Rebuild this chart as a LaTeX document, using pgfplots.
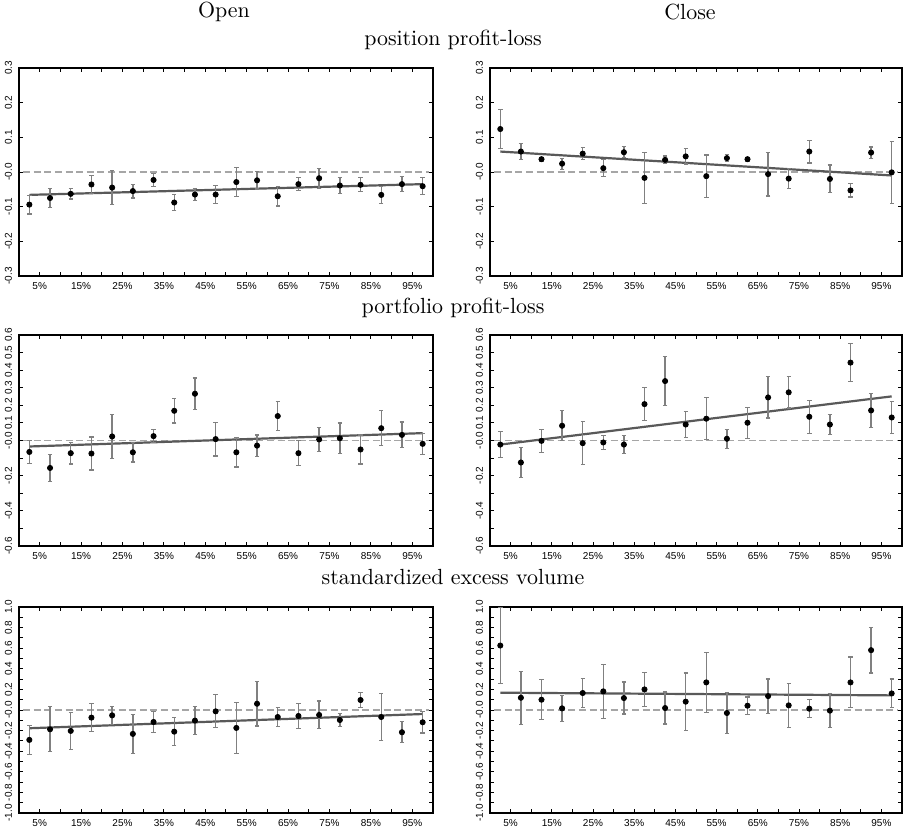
\documentclass[border=0pt]{standalone}
\usepackage{fontspec}
\usepackage{pgfplots}
\usepackage{pgfplotstable}
\pgfplotsset{compat=1.18}
\newfontfamily\ticksf{Liberation Sans}
\definecolor{errgray}{gray}{0.5}
\definecolor{linegray}{gray}{0.35}
\definecolor{dashgray}{gray}{0.65}

\pgfplotstableread{
x y e
2.5 -0.094 0.027
7.5 -0.075 0.027
12.5 -0.063 0.015
17.5 -0.036 0.025
22.5 -0.045 0.049
27.5 -0.055 0.020
32.5 -0.023 0.018
37.5 -0.088 0.022
42.5 -0.065 0.017
47.5 -0.065 0.026
52.5 -0.029 0.042
57.5 -0.024 0.025
62.5 -0.070 0.028
67.5 -0.035 0.018
72.5 -0.018 0.029
77.5 -0.039 0.022
82.5 -0.037 0.020
87.5 -0.066 0.025
92.5 -0.035 0.021
97.5 -0.041 0.025
}\openpos

\pgfplotstableread{
x y e
2.5 0.124 0.057
7.5 0.059 0.024
12.5 0.037 0.005
17.5 0.024 0.016
22.5 0.053 0.017
27.5 0.011 0.025
32.5 0.057 0.016
37.5 -0.017 0.073
42.5 0.035 0.011
47.5 0.045 0.022
52.5 -0.012 0.061
57.5 0.040 0.010
62.5 0.037 0.005
67.5 -0.006 0.063
72.5 -0.019 0.029
77.5 0.059 0.033
82.5 -0.020 0.040
87.5 -0.053 0.019
92.5 0.056 0.016
97.5 -0.001 0.089
}\closepos

\pgfplotstableread{
x y e
2.5 -0.065 0.065
7.5 -0.156 0.078
12.5 -0.072 0.061
17.5 -0.074 0.094
22.5 0.023 0.125
27.5 -0.067 0.055
32.5 0.025 0.038
37.5 0.169 0.069
42.5 0.266 0.089
47.5 0.008 0.096
52.5 -0.067 0.084
57.5 -0.029 0.060
62.5 0.139 0.083
67.5 -0.072 0.071
72.5 0.006 0.068
77.5 0.013 0.087
82.5 -0.051 0.082
87.5 0.070 0.100
92.5 0.032 0.073
97.5 -0.019 0.061
}\openport

\pgfplotstableread{
x y e
2.5 -0.023 0.073
7.5 -0.125 0.087
12.5 -0.002 0.066
17.5 0.084 0.085
22.5 -0.015 0.123
27.5 -0.011 0.040
32.5 -0.023 0.052
37.5 0.207 0.094
42.5 0.338 0.139
47.5 0.091 0.073
52.5 0.124 0.120
57.5 0.010 0.054
62.5 0.101 0.089
67.5 0.245 0.117
72.5 0.274 0.089
77.5 0.135 0.093
82.5 0.091 0.059
87.5 0.443 0.108
92.5 0.171 0.098
97.5 0.131 0.090
}\closeport

\pgfplotstableread{
x y e
2.5 -0.290 0.142
7.5 -0.187 0.219
12.5 -0.203 0.181
17.5 -0.074 0.135
22.5 -0.052 0.087
27.5 -0.232 0.190
32.5 -0.116 0.103
37.5 -0.210 0.134
42.5 -0.103 0.134
47.5 -0.013 0.160
52.5 -0.174 0.247
57.5 0.061 0.216
62.5 -0.068 0.089
67.5 -0.058 0.123
72.5 -0.048 0.135
77.5 -0.097 0.066
82.5 0.097 0.071
87.5 -0.068 0.229
92.5 -0.216 0.103
97.5 -0.119 0.105
}\openvol

\pgfplotstableread{
x y e
2.5 0.626 0.366
7.5 0.119 0.258
12.5 0.100 0.195
17.5 0.016 0.127
22.5 0.165 0.144
27.5 0.181 0.260
32.5 0.116 0.155
37.5 0.200 0.168
42.5 0.019 0.155
47.5 0.081 0.279
52.5 0.268 0.294
57.5 -0.029 0.200
62.5 0.042 0.085
67.5 0.135 0.166
72.5 0.045 0.215
77.5 0.013 0.087
82.5 -0.006 0.165
87.5 0.268 0.247
92.5 0.581 0.221
97.5 0.161 0.140
}\closevol

\pgfplotsset{
  panel/.style={
    scale only axis,
    anchor=north west,
    xmin=0, xmax=100,
    axis line style={line width=0.8pt},
    xtick={5,10,...,95},
    xticklabels={5\%,,15\%,,25\%,,35\%,,45\%,,55\%,,65\%,,75\%,,85\%,,95\%},
    tick align=inside,
    major tick length=2pt,
    tick style={line width=0.5pt, black},
    ticklabel style={font=\ticksf\fontsize{5}{6}\selectfont},
    xticklabel style={yshift=0.5pt},
    yticklabel style={rotate=90, anchor=south},
    clip=false,
  },
  rowA/.style={ymin=-0.3, ymax=0.3,
    ytick={-0.3,-0.2,-0.1,0,0.1,0.2,0.3},
    yticklabels={-0.3,-0.2,-0.1,-0.0,0.1,0.2,0.3}},
  rowB/.style={ymin=-0.6, ymax=0.6,
    ytick={-0.6,-0.5,-0.4,-0.3,-0.2,-0.1,0,0.1,0.2,0.3,0.4,0.5,0.6},
    yticklabels={-0.6,,-0.4,,-0.2,,-0.0,0.1,0.2,0.3,0.4,0.5,0.6}},
  rowC/.style={ymin=-1, ymax=1,
    ytick={-1,-0.9,-0.8,-0.7,-0.6,-0.5,-0.4,-0.3,-0.2,-0.1,0,0.1,0.2,0.3,0.4,0.5,0.6,0.7,0.8,0.9,1},
    yticklabels={-1.0,,-0.8,,-0.6,,-0.4,,-0.2,,-0.0,,0.2,,0.4,,0.6,,0.8,,1.0}},
  zeroline/.style={dashgray, line width=0.9pt, dash pattern=on 3.5pt off 1.8pt},
  regline/.style={linegray, line width=1.1pt},
  pts/.style={only marks, mark=*, mark size=1.3pt, mark options={fill=black, draw=black},
    error bars/.cd, y dir=both, y explicit,
    error bar style={errgray, line width=0.7pt},
    error mark options={errgray, line width=0.6pt, mark size=1.1pt, rotate=90}},
}

\begin{document}
\begin{tikzpicture}
\path[use as bounding box] (0,0) rectangle (453.5pt,-413.5pt);
\node[font=\fontsize{10.95}{13}\selectfont] at (112pt,-6pt) {Open};
\node[font=\fontsize{10.95}{13}\selectfont] at (345pt,-6pt) {Close};
\node[font=\fontsize{10.95}{13}\selectfont] at (226.5pt,-20pt) {position profit-loss};
\node[font=\fontsize{10.95}{13}\selectfont] at (226.5pt,-154pt) {portfolio profit-loss};
\node[font=\fontsize{10.95}{13}\selectfont] at (226.5pt,-288.5pt) {standardized excess volume};

% Row 1
\begin{axis}[panel, rowA, at={(9.5pt,-34pt)}, width=207pt, height=104pt]
\addplot[zeroline] coordinates {(1,0) (99,0)};
\addplot[regline] coordinates {(2.5,-0.066) (97.5,-0.035)};
\addplot[pts] table[x=x, y=y, y error=e] {\openpos};
\end{axis}
\begin{axis}[panel, rowA, at={(245pt,-34pt)}, width=206pt, height=104pt]
\addplot[zeroline] coordinates {(1,0) (99,0)};
\addplot[regline] coordinates {(2.5,0.059) (97.5,-0.010)};
\addplot[pts] table[x=x, y=y, y error=e] {\closepos};
\end{axis}

% Row 2
\begin{axis}[panel, rowB, at={(9.5pt,-167.5pt)}, width=207pt, height=105.5pt]
\addplot[zeroline] coordinates {(1,0) (99,0)};
\addplot[regline] coordinates {(2.5,-0.034) (97.5,0.042)};
\addplot[pts] table[x=x, y=y, y error=e] {\openport};
\end{axis}
\begin{axis}[panel, rowB, at={(245pt,-167.5pt)}, width=206pt, height=105.5pt]
\addplot[zeroline] coordinates {(1,0) (99,0)};
\addplot[regline] coordinates {(2.5,-0.023) (97.5,0.251)};
\addplot[pts] table[x=x, y=y, y error=e] {\closeport};
\end{axis}

% Row 3
\begin{axis}[panel, rowC, at={(9.5pt,-303.5pt)}, width=207pt, height=103pt]
\addplot[zeroline] coordinates {(1,0) (99,0)};
\addplot[regline] coordinates {(2.5,-0.177) (97.5,-0.039)};
\addplot[pts] table[x=x, y=y, y error=e] {\openvol};
\end{axis}
\begin{axis}[panel, rowC, at={(245pt,-303.5pt)}, width=206pt, height=103pt]
\addplot[zeroline] coordinates {(1,0) (99,0)};
\addplot[regline] coordinates {(2.5,0.168) (97.5,0.142)};
\addplot[pts] table[x=x, y=y, y error=e] {\closevol};
\end{axis}
\end{tikzpicture}
\end{document}
